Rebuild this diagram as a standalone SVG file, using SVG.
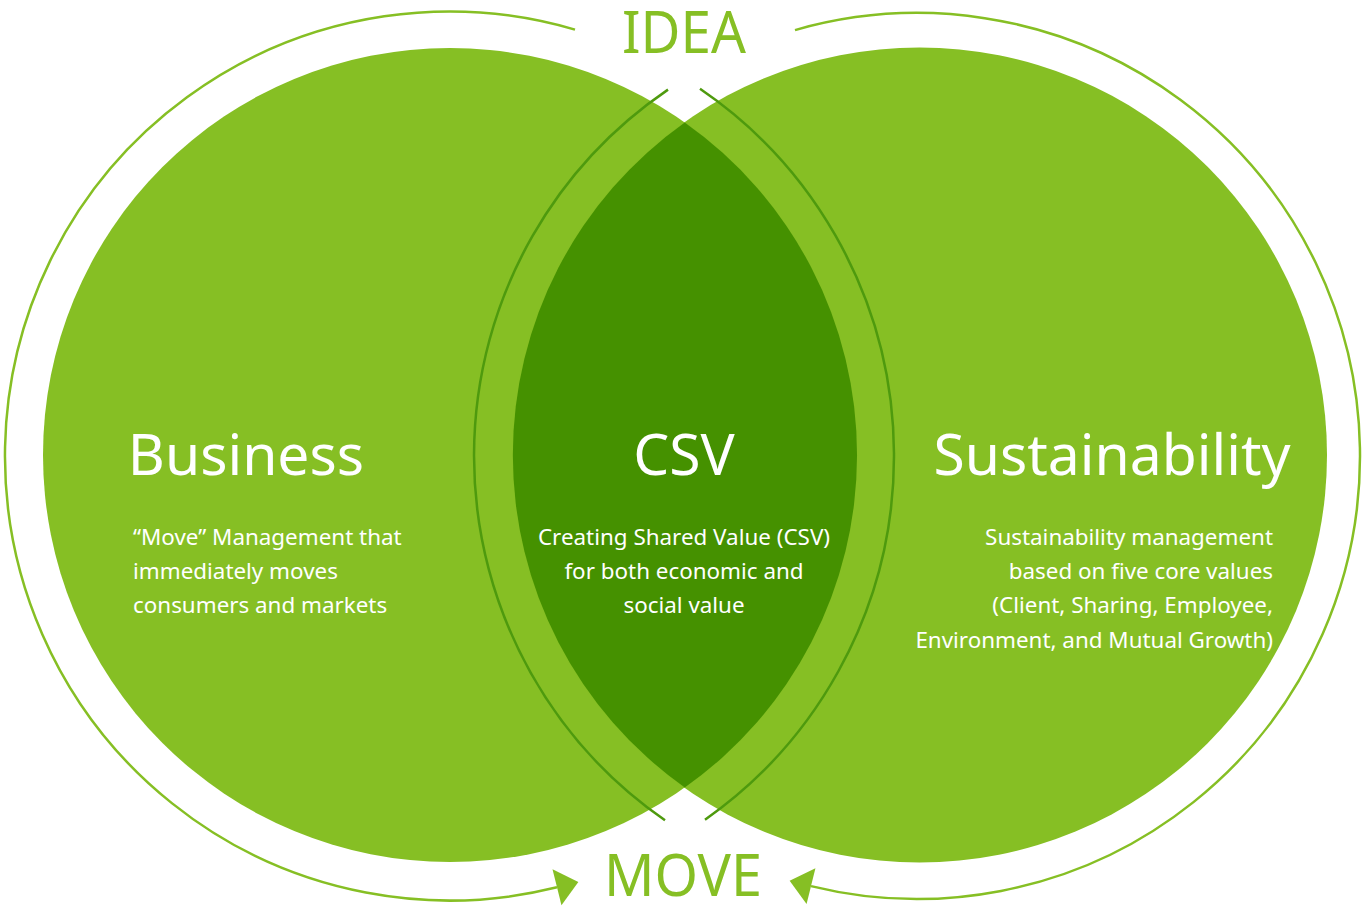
<svg xmlns="http://www.w3.org/2000/svg" width="1365" height="909" viewBox="0 0 1365 909">
  <style>
    .circle { fill: #86bf24; }
    .lens { fill: #459100; }
    .ring { fill: none; stroke: #86bf24; stroke-width: 2.5; }
    .inner { fill: none; stroke: #4e9a0e; stroke-width: 2.5; }
    .big { font-family: "Noto Sans", "Open Sans", sans-serif; fill: #86bf24; }
    .title { font-family: "Noto Sans", "Open Sans", sans-serif; fill: #ffffff; font-size: 57px; }
    .body { font-family: "Noto Sans", "Open Sans", sans-serif; fill: #ffffff; font-size: 22.4px; }
  </style>
  <defs>
    <marker id="arrow" markerUnits="userSpaceOnUse" markerWidth="40" markerHeight="40" viewBox="0 -20 24 40" refX="0" refY="0" orient="auto">
      <path d="M0,-18.5 L22,0 L0,18.5 Z" fill="#86bf24"/>
    </marker>
  </defs>
  <rect width="1365" height="909" fill="#ffffff"/>

  <g id="business-circle">
    <circle class="circle" cx="450" cy="455" r="407"/>
  </g>
  <g id="sustainability-circle">
    <circle class="circle" cx="919.5" cy="455" r="407.5"/>
  </g>
  <g id="csv-lens">
    <path class="lens" d="M684.75,122.5 A407,407 0 0 1 684.75,787.5 A407.5,407.5 0 0 1 684.75,122.5 Z"/>
  </g>

  <g id="connectors">
    <path class="ring" d="M575,29.6 A444.5,444.5 0 1 0 557,887.3" marker-end="url(#arrow)"/>
    <path class="ring" d="M795,30.1 A443,443 0 1 1 811,886.1" marker-end="url(#arrow)"/>
    <path class="inner" d="M700,88.8 A444.5,444.5 0 0 1 705,819.7"/>
    <path class="inner" d="M668,89.6 A443,443 0 0 0 665,820.3"/>
  </g>

  <g id="idea">
    <text class="big" x="684" y="53" font-size="58" text-anchor="middle" textLength="124" lengthAdjust="spacingAndGlyphs">IDEA</text>
  </g>
  <g id="move">
    <text class="big" x="683" y="896" font-size="58" text-anchor="middle" textLength="158" lengthAdjust="spacingAndGlyphs">MOVE</text>
  </g>

  <g id="business">
    <text class="title" x="246" y="475" text-anchor="middle">Business</text>
    <text class="body" x="133" y="545">“Move” Management that</text>
    <text class="body" x="133" y="579">immediately moves</text>
    <text class="body" x="133" y="613">consumers and markets</text>
  </g>
  <g id="csv">
    <text class="title" x="684" y="475" text-anchor="middle">CSV</text>
    <text class="body" x="684" y="545" text-anchor="middle">Creating Shared Value (CSV)</text>
    <text class="body" x="684" y="579" text-anchor="middle">for both economic and</text>
    <text class="body" x="684" y="613" text-anchor="middle">social value</text>
  </g>
  <g id="sustainability">
    <text class="title" x="1112" y="475" text-anchor="middle" font-size="58">Sustainability</text>
    <text class="body" x="1273" y="545" text-anchor="end">Sustainability management</text>
    <text class="body" x="1273" y="579" text-anchor="end">based on five core values</text>
    <text class="body" x="1273" y="613" text-anchor="end">(Client, Sharing, Employee,</text>
    <text class="body" x="1273" y="648" text-anchor="end">Environment, and Mutual Growth)</text>
  </g>
</svg>
